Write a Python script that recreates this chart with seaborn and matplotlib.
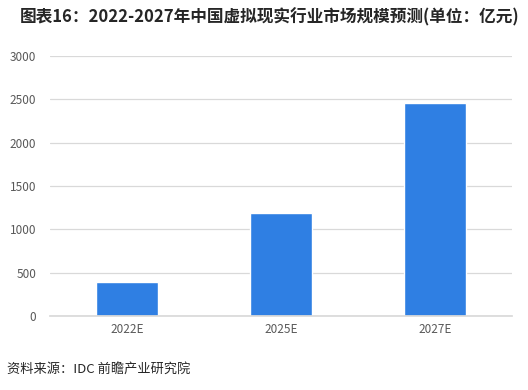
import matplotlib
matplotlib.use("Agg")
import pandas as pd
import seaborn as sns
from matplotlib import pyplot as plt

# data
years = ["2022E", "2025E", "2027E"]
market_size = [392, 1185, 2460]
y_ticks = [0, 500, 1000, 1500, 2000, 2500, 3000]

title = "图表16：2022-2027年中国虚拟现实行业市场规模预测(单位：亿元)"
source = "资料来源：IDC 前瞻产业研究院"

sns.set_theme(style="white")
plt.rcParams['font.family'] = ['Noto Sans CJK SC', 'DejaVu Sans']

df = pd.DataFrame({"year": years, "size": market_size})

fig = plt.figure(figsize=(5.28, 3.9), dpi=100)
ax = fig.add_axes([50 / 528, 1 - 316 / 390, 462 / 528, 260 / 390])

sns.barplot(data=df, x="year", y="size", ax=ax, color="#2F7FE3",
            saturation=1, width=0.4)

ax.set_ylim(0, 3000)
ax.set_yticks(y_ticks)
ax.yaxis.grid(True, color="#D9D9D9", linewidth=0.9)
ax.set_axisbelow(True)
for s in ["top", "right", "left"]:
    ax.spines[s].set_visible(False)
ax.spines["bottom"].set_color("#D9D9D9")
ax.set_xlabel("")
ax.set_ylabel("")
ax.tick_params(axis="x", length=0, labelsize=8.5, colors="#595959", pad=5)
ax.tick_params(axis="y", length=0, labelsize=8.5, colors="#595959", pad=10)

fig.text(20 / 528, 1 - 17 / 390, title, fontsize=12, fontweight="bold",
         color="#262626", va="center", ha="left")
fig.text(7 / 528, 1 - 369 / 390, source, fontsize=9.5, color="#262626",
         va="center", ha="left")

fig.savefig("out.png", dpi=100)
